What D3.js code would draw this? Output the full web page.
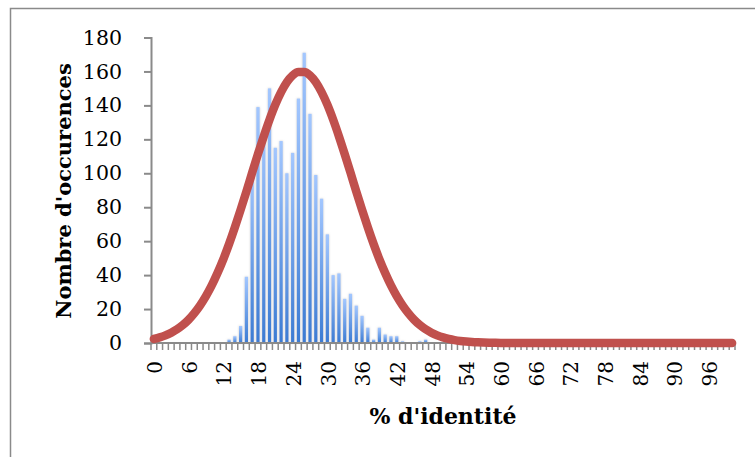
<!DOCTYPE html>
<html><head><meta charset="utf-8">
<script src="https://cdn.jsdelivr.net/npm/d3@7"></script>
<style>html,body{margin:0;padding:0;background:#fff;overflow:hidden}</style>
</head><body>
<svg id="chart" width="755" height="457"></svg>
<script>
// Categories: % identity 0..100
const categories = d3.range(0, 101);
// Histogram counts
const counts = [
  0,0,0,0,0,0,0,0,0,0, 0,0,0,2,4,10,39,101,139,124,
  150,115,119,100,112,144,171,135,99,85, 64,40,41,26,29,22,16,9,2,9,
  5,4,4,1,0,0,1,2,0,0, 0,0,0,0,0,0,0,0,0,0,
  0,0,0,0,0,0,0,0,0,0, 0,0,0,0,0,0,0,0,0,0,
  0,0,0,0,0,0,0,0,0,0, 0,0,0,0,0,0,0,0,0,0, 0
];
// Fitted curve values
const curve = [
  2.4,3.3,4.5,6.1,8.1,10.6,13.7,17.6,22.2,27.6,
  33.9,41.2,49.3,58.3,68.1,78.5,89.3,100.4,111.3,121.8,
  131.6,140.4,147.8,153.7,157.7,159.7,159.7,157.7,153.7,147.8,
  140.4,131.6,121.8,111.3,100.4,89.3,78.5,68.1,58.3,49.3,
  41.2,33.9,27.6,22.2,17.6,13.7,10.6,8.1,6.1,4.5,
  3.3,2.4,1.7,1.2,0.85,0.58,0.39,0.26,0.17,0.11,
  0.07,0.05,0.03,0.02,0.01,0.01,0,0,0,0,
  0,0,0,0,0,0,0,0,0,0, 0,0,0,0,0,0,0,0,0,0,
  0,0,0,0,0,0,0,0,0,0, 0
];
const yTicks = [0,20,40,60,80,100,120,140,160,180];
const xLabelStep = 6;
const xTitle = "% d'identité";
const yTitle = "Nombre d'occurences";

const svg = d3.select("#chart");
const pL = 151, pR = 735, pT = 37.5, pB = 343;
const x = d3.scaleBand().domain(categories).range([pL, pR]).paddingInner(0).paddingOuter(0);
const y = d3.scaleLinear().domain([0, 180]).range([pB, pT]);

// frame
svg.append("rect").attr("x", 10.5).attr("y", 8.5).attr("width", 800).attr("height", 500)
  .attr("fill", "none").attr("stroke", "#8a8a8a").attr("stroke-width", 1.5);

const defs = svg.append("defs");
const grad = defs.append("linearGradient").attr("id", "barGrad")
  .attr("x1", 0).attr("y1", 0).attr("x2", 0).attr("y2", 1);
grad.append("stop").attr("offset", "0%").attr("stop-color", "#a3c7ff");
grad.append("stop").attr("offset", "100%").attr("stop-color", "#3b7bd3");
const f = defs.append("filter").attr("id", "glow").attr("x", "-100%").attr("y", "-10%").attr("width", "300%").attr("height", "120%");
f.append("feGaussianBlur").attr("in", "SourceAlpha").attr("stdDeviation", 1.3).attr("result", "b");
f.append("feFlood").attr("flood-color", "#9a9a9a").attr("flood-opacity", 0.55);
f.append("feComposite").attr("in2", "b").attr("operator", "in").attr("result", "s");
const m = f.append("feMerge");
m.append("feMergeNode").attr("in", "s");
m.append("feMergeNode").attr("in", "SourceGraphic");

const bw = 3.2;
svg.append("g").attr("filter", "url(#glow)")
  .selectAll("rect").data(categories.filter(c => counts[c] > 0)).join("rect")
  .attr("x", c => x(c) + x.bandwidth() / 2 - bw / 2)
  .attr("width", bw)
  .attr("y", c => y(counts[c]))
  .attr("height", c => y(0) - y(counts[c]))
  .attr("fill", "url(#barGrad)");

// y axis
const yAxis = d3.axisLeft(y).tickValues(yTicks).tickSize(7).tickPadding(22).tickFormat(d3.format("d"));
const gy = svg.append("g").attr("transform", `translate(${pL},0)`).call(yAxis);
gy.select(".domain").attr("stroke", "#8a8a8a").attr("stroke-width", 2);
gy.selectAll(".tick line").attr("stroke", "#8a8a8a").attr("stroke-width", 2);
gy.selectAll(".tick text").attr("font-family", "DejaVu Serif").attr("font-size", 20.5).attr("fill", "#000");

// x axis: ticks at category boundaries
const gx = svg.append("g");
gx.append("line").attr("x1", pL).attr("x2", pR).attr("y1", pB).attr("y2", pB)
  .attr("stroke", "#8a8a8a").attr("stroke-width", 2);
const bounds = categories.map(c => x(c)).concat([pR]);
gx.selectAll("line.t").data(bounds).join("line").attr("class", "t")
  .attr("x1", d => d).attr("x2", d => d).attr("y1", pB).attr("y2", pB + 7)
  .attr("stroke", "#8a8a8a").attr("stroke-width", 1.5);
gx.selectAll("text").data(categories.filter(c => c % xLabelStep === 0)).join("text")
  .attr("transform", c => `translate(${x(c) + x.bandwidth() / 2 + 1},361) rotate(-90)`)
  .attr("text-anchor", "end").attr("dy", "0.36em")
  .attr("font-family", "DejaVu Serif").attr("font-size", 20).attr("fill", "#000")
  .text(c => c);

// curve
const line = d3.line().x((d, i) => x(categories[i]) + x.bandwidth() / 2).y(d => y(d)).curve(d3.curveMonotoneX);
svg.append("path").datum(curve).attr("d", line).attr("fill", "none")
  .attr("stroke", "#c0504d").attr("stroke-width", 8.5).attr("stroke-linecap", "round").attr("stroke-linejoin", "round");

// titles
svg.append("text").attr("x", 443).attr("y", 424).attr("text-anchor", "middle")
  .attr("font-family", "DejaVu Serif").attr("font-weight", "bold").attr("font-size", 22).text(xTitle);
svg.append("text").attr("transform", "translate(71,191) rotate(-90)").attr("text-anchor", "middle")
  .attr("font-family", "DejaVu Serif").attr("font-weight", "bold").attr("font-size", 21).text(yTitle);
</script>
</body></html>
